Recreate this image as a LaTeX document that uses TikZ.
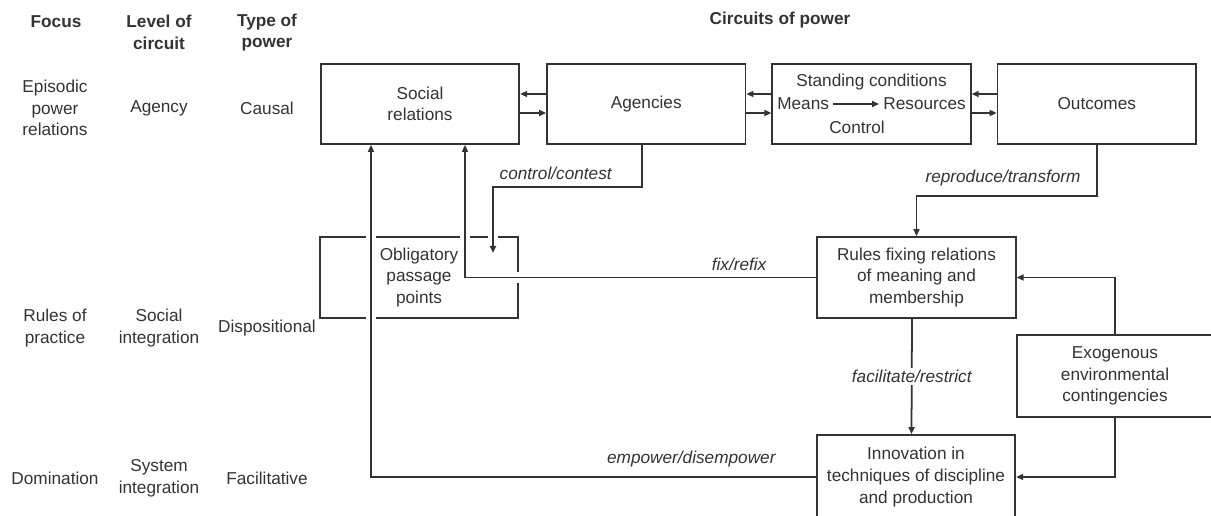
\documentclass[tikz,border=0pt]{standalone}
\usepackage{fontspec}
\setmainfont{Liberation Sans}
\usetikzlibrary{arrows.meta,positioning}

\tikzset{
  txt/.style={font=\fontsize{9.8}{12.3}\selectfont, align=center},
  head/.style={txt, font=\fontsize{9.8}{12.3}\selectfont\bfseries},
  lbl/.style={txt, font=\fontsize{9.8}{12.3}\selectfont\itshape},
  box/.style={txt, draw, minimum width=3.97cm, minimum height=1.6cm},
  gapline/.style={preaction={draw=white, -, line width=6pt, shorten <=4pt, shorten >=4pt}},
}

\begin{document}
\begin{tikzpicture}[>={Triangle[length=4pt,width=3.4pt]}, line width=1pt, color=black!80]
      \useasboundingbox (0,0) rectangle (24.22,10.3);
      \clip (0,0) rectangle (24.22,10.3);

      \node[head] (hfocus) at (1.12,9.86) {Focus};
      \node[head] (hlevel) at (3.18,9.65) {Level of\\circuit};
      \node[head] (htype) at (5.34,9.65) {Type of\\power};
      \node[head] (hcirc) at (15.6,9.9) {Circuits of power};

      \node[txt] (focus1) at (1.10,8.14) {Episodic\\power\\relations};
      \node[txt] (level1) at (3.18,8.14) {Agency};
      \node[txt] (type1) at (5.34,8.14) {Causal};
      \node[txt] (focus2) at (1.10,3.74) {Rules of\\practice};
      \node[txt] (level2) at (3.18,3.74) {Social\\integration};
      \node[txt] (type2) at (5.34,3.74) {Dispositional};
      \node[txt] (focus3) at (1.10,0.74) {Domination};
      \node[txt] (level3) at (3.18,0.74) {System\\integration};
      \node[txt] (type3) at (5.34,0.74) {Facilitative};

      \node[box] (soc) at (8.40,8.22) {Social\\relations};
      \node[box, right=0.52cm of soc] (agen) {Agencies};
      \node[box, right=0.5cm of agen] (std) {};
      \node[box, right=0.5cm of std] (outc) {Outcomes};

      \node[txt] (stdtop) at ([yshift=.44cm]std.center) {Standing conditions};
      \node[txt, anchor=west, inner sep=2pt] (means) at ([xshift=.03cm]std.west) {Means};
      \node[txt, anchor=east, inner sep=2pt] (res) at ([xshift=-.03cm]std.east) {Resources};
      \node[txt] (ctrl) at ([xshift=-.29cm,yshift=-.46cm]std.center) {Control};
      \draw[->] (means) -- (res);

      \node[box, minimum height=1.62cm] (opp) at (8.38,4.75) {Obligatory\\passage\\points};
      \node[box, minimum height=1.62cm] (rules) at (18.33,4.75) {Rules fixing relations\\of meaning and\\membership};
      \node[box, minimum width=3.92cm, minimum height=1.64cm] (exo) at (22.30,2.78) {Exogenous\\environmental\\contingencies};
      \node[box, minimum height=1.68cm] (innov) at (18.32,0.76) {Innovation in\\techniques of discipline\\and production};
      \coordinate (ctrlend) at (9.86,5.24);

      \foreach \a/\b in {soc/agen, agen/std, std/outc} {
        \draw[->] ([yshift=.2cm]\b.west) -- ([yshift=.2cm]\a.east);
        \draw[->] ([yshift=-.18cm]\a.east) -- ([yshift=-.18cm]\b.west);
      }

      \draw[->, gapline] ([xshift=-.08cm]agen.south) -- ++(0,-.84) -| node[lbl, pos=.29, above] {control/contest} (ctrlend);
      \draw[->] (outc.south) -- ++(0,-1.02) -| node[lbl, pos=.26, above=2pt] {reproduce/transform} (rules.north);
      \draw[->, gapline] (rules.west) -| node[lbl, pos=.11, above] {fix/refix} ([xshift=.9cm]soc.south);
      \draw[->] ([xshift=-.09cm]rules.south) -- node[lbl, fill=white, inner sep=1pt] {facilitate/restrict} ([xshift=-.09cm]innov.north);
      \draw[->, gapline] (innov.west) -| node[lbl, pos=.14, above=2pt] {empower/disempower} ([xshift=-.98cm]soc.south);
      \draw[->] (exo.north) |- (rules.east);
      \draw[->] (exo.south) |- (innov.east);
    \end{tikzpicture}
\end{document}
